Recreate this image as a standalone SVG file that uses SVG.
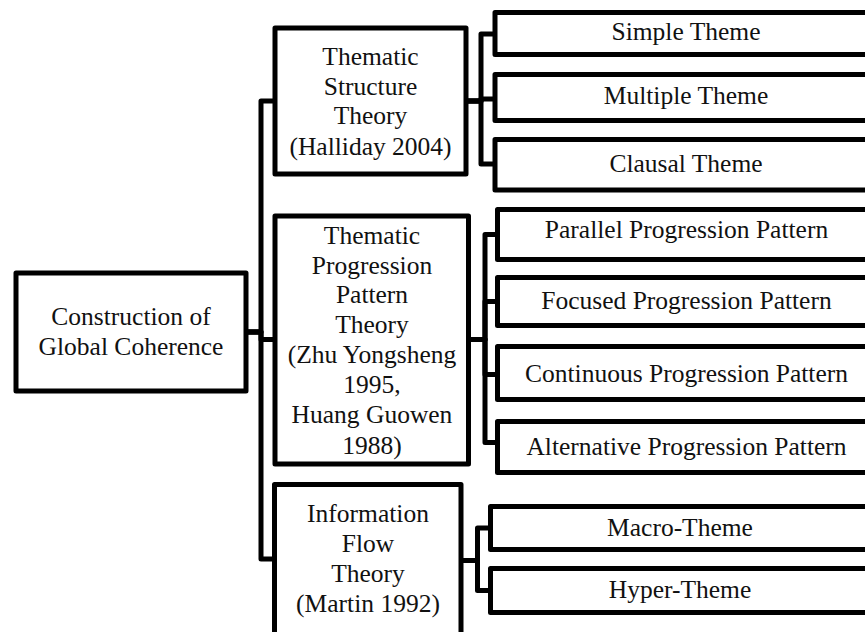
<svg xmlns="http://www.w3.org/2000/svg" width="865" height="632" viewBox="0 0 865 632">
<style>
  .box { fill: #ffffff; stroke: #000000; stroke-width: 5; stroke-linejoin: round; }
  .conn { fill: none; stroke: #000000; stroke-width: 5; stroke-linejoin: round; }
  text { font-family: "Liberation Serif", "Times New Roman", serif; font-size: 25.5px; fill: #111111; text-anchor: middle; }
</style>
<rect width="865" height="632" fill="#ffffff"/>
<g id="connectors">
  <path class="conn" d="M248,332 H261 V101 H275"/>
  <path class="conn" d="M248,332 H261 V339.5 H275"/>
  <path class="conn" d="M248,332 H261 V559 H275"/>
  <path class="conn" d="M466,101 H481 V34 H495"/>
  <path class="conn" d="M466,101 H481 V99 H495"/>
  <path class="conn" d="M466,101 H481 V164 H495"/>
  <path class="conn" d="M468.5,339.5 H485 V234.5 H497.5"/>
  <path class="conn" d="M468.5,339.5 H485 V301.5 H497.5"/>
  <path class="conn" d="M468.5,339.5 H485 V374.5 H497.5"/>
  <path class="conn" d="M468.5,339.5 H485 V442.5 H497.5"/>
  <path class="conn" d="M461,560.5 H477.5 V528 H490.5"/>
  <path class="conn" d="M461,560.5 H477.5 V590.5 H490.5"/>
</g>
<g id="root">
  <rect class="box" x="16" y="273" width="230" height="118"/>
  <text x="131" y="325">Construction of</text>
  <text x="131" y="355">Global Coherence</text>
</g>
<g id="thematic-structure">
  <rect class="box" x="275" y="28" width="191" height="146"/>
  <text x="370.5" y="65">Thematic</text>
  <text x="370.5" y="95">Structure</text>
  <text x="370.5" y="124">Theory</text>
  <text x="370.5" y="155">(Halliday 2004)</text>
</g>
<g id="thematic-progression">
  <rect class="box" x="275" y="216" width="193.5" height="248"/>
  <text x="372" y="244">Thematic</text>
  <text x="372" y="274">Progression</text>
  <text x="372" y="303">Pattern</text>
  <text x="372" y="333">Theory</text>
  <text x="372" y="363">(Zhu Yongsheng</text>
  <text x="372" y="393">1995,</text>
  <text x="372" y="423">Huang Guowen</text>
  <text x="372" y="454">1988)</text>
</g>
<g id="information-flow">
  <rect class="box" x="274.5" y="484.5" width="186.5" height="170"/>
  <text x="368" y="522">Information</text>
  <text x="368" y="552">Flow</text>
  <text x="368" y="582">Theory</text>
  <text x="368" y="612">(Martin 1992)</text>
</g>
<g id="simple-theme">
  <rect class="box" x="495" y="12.5" width="383" height="42"/>
  <text x="686" y="40">Simple Theme</text>
</g>
<g id="multiple-theme">
  <rect class="box" x="495" y="74.5" width="383" height="46"/>
  <text x="686" y="104">Multiple Theme</text>
</g>
<g id="clausal-theme">
  <rect class="box" x="495" y="139.5" width="383" height="50.5"/>
  <text x="686" y="172">Clausal Theme</text>
</g>
<g id="parallel">
  <rect class="box" x="497.5" y="209.5" width="380" height="50"/>
  <text x="686.5" y="238">Parallel Progression Pattern</text>
</g>
<g id="focused">
  <rect class="box" x="497.5" y="277.5" width="380" height="48"/>
  <text x="686.5" y="309">Focused Progression Pattern</text>
</g>
<g id="continuous">
  <rect class="box" x="497.5" y="346.5" width="380" height="53"/>
  <text x="686.5" y="382">Continuous Progression Pattern</text>
</g>
<g id="alternative">
  <rect class="box" x="497.5" y="421.5" width="380" height="51"/>
  <text x="686.5" y="455">Alternative Progression Pattern</text>
</g>
<g id="macro-theme">
  <rect class="box" x="490.5" y="506.5" width="385" height="43"/>
  <text x="680" y="536">Macro-Theme</text>
</g>
<g id="hyper-theme">
  <rect class="box" x="490.5" y="568.5" width="385" height="44"/>
  <text x="680" y="598">Hyper-Theme</text>
</g>
</svg>
